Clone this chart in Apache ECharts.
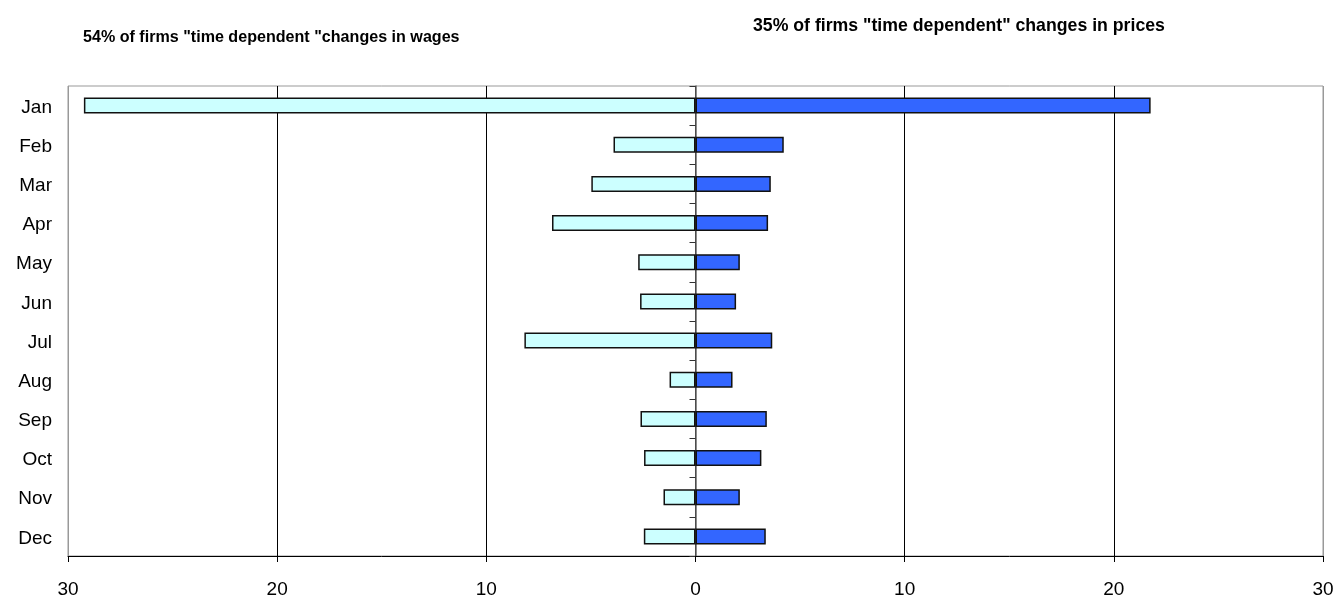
<!DOCTYPE html>
<html>
<head>
<meta charset="utf-8">
<script src="https://cdn.jsdelivr.net/npm/echarts@6/dist/echarts.min.js"></script>
<style>
html,body{margin:0;padding:0;background:#fff;}
#chart{width:1337px;height:599px;}
</style>
</head>
<body>
<div id="chart"></div>
<script>
var months = ['Jan','Feb','Mar','Apr','May','Jun','Jul','Aug','Sep','Oct','Nov','Dec'];
var wages  = [29.24, 3.92, 4.98, 6.86, 2.74, 2.65, 8.18, 1.24, 2.63, 2.46, 1.53, 2.47];
var prices = [21.76, 4.22, 3.60, 3.47, 2.12, 1.94, 3.67, 1.77, 3.41, 3.15, 2.12, 3.36];
var xTicks = [-30, -20, -10, 0, 10, 20, 30];
var titleWages = '54% of firms "time dependent "changes in wages';
var titlePrices = '35% of firms "time dependent" changes in prices';

var wagesNeg = wages.map(function (v) { return -v; });

var chart = echarts.init(document.getElementById('chart'), null, {renderer: 'canvas'});
chart.setOption({
  animation: false,
  backgroundColor: '#fff',
  textStyle: {fontFamily: 'Liberation Sans, Arial, sans-serif'},
  title: [
    {text: titleWages, left: 78, top: 25,
     textStyle: {fontSize: 16.1, fontWeight: 'bold', color: '#000', fontFamily: 'Liberation Sans, Arial, sans-serif'}},
    {text: titlePrices, left: 748, top: 12,
     textStyle: {fontSize: 17.7, fontWeight: 'bold', color: '#000', fontFamily: 'Liberation Sans, Arial, sans-serif'}}
  ],
  grid: {left: 68, right: 14, top: 86, bottom: 41, containLabel: false,
         show: true, borderColor: '#999', borderWidth: 1, backgroundColor: 'transparent'},
  xAxis: {
    type: 'value', min: -30, max: 30, interval: 10,
    axisLine: {show: true, onZero: false, lineStyle: {color: '#000', width: 1}},
    axisTick: {show: true, length: 6, lineStyle: {color: '#000'}},
    axisLabel: {color: '#000', fontSize: 19, margin: 24,
                formatter: function (v) { return String(Math.abs(v)); }},
    splitLine: {show: true, lineStyle: {color: ['#999', '#000', '#000', '#000', '#000', '#000', '#999'], width: 1}}
  },
  yAxis: [
    {
      type: 'category', data: months, inverse: true,
      axisLine: {show: false, onZero: false},
      axisTick: {show: false},
      axisLabel: {color: '#000', fontSize: 19, margin: 16, align: 'right', lineHeight: 24, verticalAlign: 'top', padding: [-10, 0, 0, 0]},
      splitLine: {show: false}
    },
    {
      type: 'category', data: months, inverse: true, position: 'left',
      axisLine: {show: true, onZero: true, lineStyle: {color: '#666', width: 1.5}},
      axisTick: {show: true, length: 6, inside: false, lineStyle: {color: '#333'}},
      axisLabel: {show: false},
      splitLine: {show: false}
    }
  ],
  series: [
    {
      name: 'wages', type: 'bar', stack: 'm', yAxisIndex: 0, data: wagesNeg,
      barWidth: 16,
      itemStyle: {color: '#CCFFFF', borderColor: '#111', borderWidth: 1.5},
      z: 3
    },
    {
      name: 'prices', type: 'bar', stack: 'm', yAxisIndex: 0, data: prices,
      barWidth: 16,
      itemStyle: {color: '#3366FF', borderColor: '#111', borderWidth: 1.5},
      z: 3
    }
  ]
});
</script>
</body>
</html>
